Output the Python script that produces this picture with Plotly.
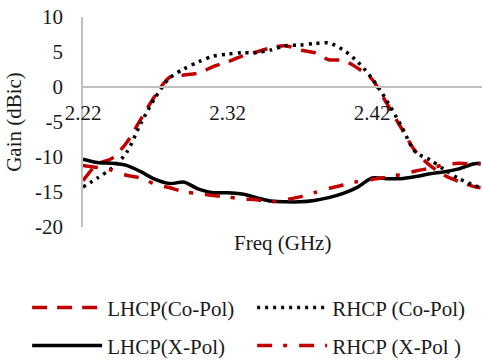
import plotly.graph_objects as go

# Frequency samples (GHz)
freq = [2.22, 2.23, 2.24, 2.25, 2.26, 2.27, 2.28, 2.29, 2.30, 2.31,
        2.32, 2.33, 2.34, 2.35, 2.36, 2.37, 2.38, 2.39, 2.40, 2.41,
        2.42, 2.43, 2.44, 2.45, 2.46, 2.47, 2.48, 2.49, 2.495]

# Gain (dBic)
lhcp_co = [-13.4, -11.0, -10.2, -8.0, -4.6, -1.2, 1.4, 1.7, 2.0, 2.9,
           3.6, 4.4, 5.0, 5.6, 5.9, 5.3, 4.9, 3.9, 3.8, 2.7,
           1.1, -2.3, -5.8, -9.2, -11.2, -12.6, -13.5, -14.2, -14.4]
rhcp_co = [-14.3, -13.0, -11.6, -9.4, -5.2, -1.5, 1.3, 2.6, 3.6, 4.4,
           4.7, 4.9, 4.9, 5.3, 5.9, 6.0, 6.2, 6.3, 5.3, 3.6,
           1.2, -1.9, -5.5, -9.3, -10.4, -11.8, -13.1, -14.0, -14.4]
lhcp_x = [-10.3, -10.8, -10.9, -11.2, -12.1, -13.2, -13.8, -13.6, -14.6, -15.1,
          -15.1, -15.3, -15.8, -16.3, -16.4, -16.4, -16.2, -15.8, -15.2, -14.3,
          -13.0, -13.1, -13.1, -12.8, -12.4, -12.1, -11.7, -11.0, -10.9]
rhcp_x = [-11.2, -11.5, -11.9, -12.6, -13.0, -13.9, -14.4, -15.0, -15.2, -15.5,
          -15.7, -16.0, -16.1, -16.4, -16.1, -15.7, -15.1, -14.5, -14.0, -13.5,
          -13.2, -12.9, -12.5, -12.0, -11.6, -11.1, -10.9, -11.0, -11.0]

x_ticks = [2.22, 2.32, 2.42]
x_tick_labels = ["2.22", "2.32", "2.42"]
y_ticks = [-20, -15, -10, -5, 0, 5, 10]
y_tick_labels = ["-20", "-15", "-10", "-5", "0", "5", "10"]

RED = "#C00000"
FONT = "Liberation Serif"
TXT = "#1a1a1a"
FS = 21

fig = go.Figure()
fig.add_trace(go.Scatter(x=freq, y=lhcp_co, mode="lines", name="LHCP(Co-Pol)",
                         line=dict(color=RED, width=3.5, dash="15px,10px",
                                   shape="spline", smoothing=0.8),
                         legend="legend"))
fig.add_trace(go.Scatter(x=freq, y=rhcp_co, mode="lines", name="RHCP (Co-Pol)",
                         line=dict(color="black", width=3.5, dash="3px,5px",
                                   shape="spline", smoothing=0.8),
                         legend="legend"))
fig.add_trace(go.Scatter(x=freq, y=lhcp_x, mode="lines", name="LHCP(X-Pol)",
                         line=dict(color="black", width=3.5,
                                   shape="spline", smoothing=0.8),
                         legend="legend2"))
fig.add_trace(go.Scatter(x=freq, y=rhcp_x, mode="lines", name="RHCP (X-Pol )",
                         line=dict(color=RED, width=3.5, dash="15px,11px,4px,12px",
                                   shape="spline", smoothing=0.8),
                         legend="legend2"))

legend_common = dict(orientation="h", xanchor="left", yanchor="middle",
                     x=-0.14, entrywidth=140, entrywidthmode="pixels",
                     itemwidth=70, bgcolor="rgba(0,0,0,0)",
                     font=dict(family=FONT, size=FS, color=TXT))

fig.update_layout(
    width=482, height=360,
    margin=dict(l=83, r=0, t=17, b=133, autoexpand=False),
    paper_bgcolor="white", plot_bgcolor="white",
    showlegend=True,
    legend=dict(legend_common, y=-0.385),
    legend2=dict(legend_common, y=-0.566),
    xaxis=dict(range=[2.22, 2.496], tickvals=x_ticks, ticktext=x_tick_labels,
               showgrid=False, zeroline=False, showline=True,
               linecolor="#BFBFBF", linewidth=1.5, ticks="",
               anchor="free", position=2 / 3, ticklabelstandoff=7,
               tickfont=dict(family=FONT, size=FS, color=TXT)),
    yaxis=dict(range=[-20, 10], tickvals=y_ticks, ticktext=y_tick_labels,
               showgrid=False, zeroline=False, showline=True,
               linecolor="#BFBFBF", linewidth=1.5, ticks="",
               ticklabelstandoff=14,
               tickfont=dict(family=FONT, size=FS, color=TXT),
               title=dict(text="Gain (dBic)", standoff=8,
                          font=dict(family=FONT, size=FS, color=TXT))),
    annotations=[dict(text="Freq (GHz)", xref="paper", yref="paper",
                      x=0.5, y=-0.076, xanchor="center", yanchor="middle",
                      showarrow=False,
                      font=dict(family=FONT, size=FS, color=TXT))],
)

fig.write_html("out.html")
